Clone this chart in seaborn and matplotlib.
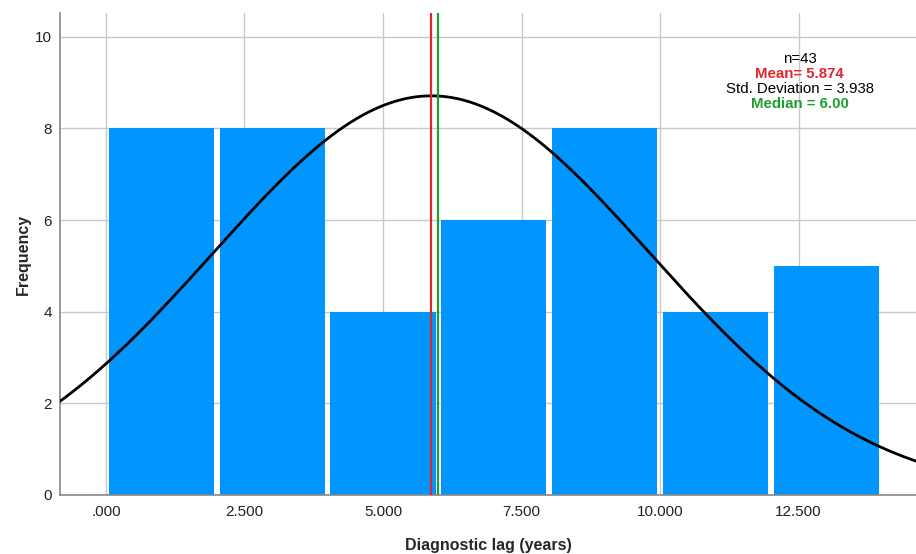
import numpy as np
import pandas as pd
import matplotlib
matplotlib.use("Agg")
import matplotlib.pyplot as plt
import seaborn as sns

# Data
bin_starts = [0, 2, 4, 6, 8, 10, 12]
counts = [8, 8, 4, 6, 8, 4, 5]
bin_width = 2
n_total = 43
mean_val = 5.874
sd_val = 3.938
median_val = 6.00
x_ticks = [0, 2.5, 5, 7.5, 10, 12.5]
x_tick_labels = [".000", "2.500", "5.000", "7.500", "10.000", "12.500"]
y_ticks = [0, 2, 4, 6, 8, 10]

sns.set_theme(style="white")
plt.rcParams['font.family'] = ['Liberation Sans', 'DejaVu Sans']

fig = plt.figure(figsize=(9.16, 5.54), dpi=100)
ax = fig.add_axes([0.0655, 0.1065, 0.9345, 0.87])

df = pd.DataFrame({"center": [b + bin_width / 2 for b in bin_starts], "count": counts})
edges = list(bin_starts) + [bin_starts[-1] + bin_width]
sns.histplot(data=df, x="center", weights="count", bins=edges, shrink=0.95,
             color="#0095FF", alpha=1, edgecolor="none", linewidth=0, ax=ax, zorder=2)

# fitted normal curve
xs = np.linspace(-0.9, 14.7, 400)
ys = n_total * bin_width / (sd_val * np.sqrt(2 * np.pi)) * np.exp(-0.5 * ((xs - mean_val) / sd_val) ** 2)
sns.lineplot(x=xs, y=ys, color="black", linewidth=2, ax=ax, zorder=4)

ax.axvline(mean_val, color="#E0262B", linewidth=1.6, zorder=5)
ax.axvline(median_val, color="#1E9E2E", linewidth=1.6, zorder=5)

ax.set_xlim(-0.83, 14.62)
ax.set_ylim(0, 10.52)
ax.set_xticks(x_ticks)
ax.set_xticklabels(x_tick_labels)
ax.set_yticks(y_ticks)
ax.tick_params(axis="both", length=0, labelsize=11, colors="#222222")
ax.tick_params(axis="x", pad=7)
ax.tick_params(axis="y", pad=6)
ax.grid(True, color="#C8C8C8", linewidth=1, zorder=0)
ax.set_axisbelow(True)
for s in ["top", "right"]:
    ax.spines[s].set_visible(False)
for s in ["left", "bottom"]:
    ax.spines[s].set_color("#888888")
    ax.spines[s].set_linewidth(1.2)

ax.set_xlabel("Diagnostic lag (years)", fontsize=11.5, fontweight="bold", labelpad=14)
ax.set_ylabel("Frequency", fontsize=11.5, fontweight="bold", labelpad=3)

tx = 0.873
fs = 10.8
fig.text(tx, 0.893, f"n={n_total}", ha="center", va="center", fontsize=fs, color="black")
fig.text(tx, 0.866, f"Mean= {mean_val:.3f}", ha="center", va="center", fontsize=fs, color="#E0262B", fontweight="bold")
fig.text(tx, 0.839, f"Std. Deviation = {sd_val:.3f}", ha="center", va="center", fontsize=fs, color="black")
fig.text(tx, 0.813, f"Median = {median_val:.2f}", ha="center", va="center", fontsize=fs, color="#1E9E2E", fontweight="bold")

fig.savefig("out.png", dpi=100)
